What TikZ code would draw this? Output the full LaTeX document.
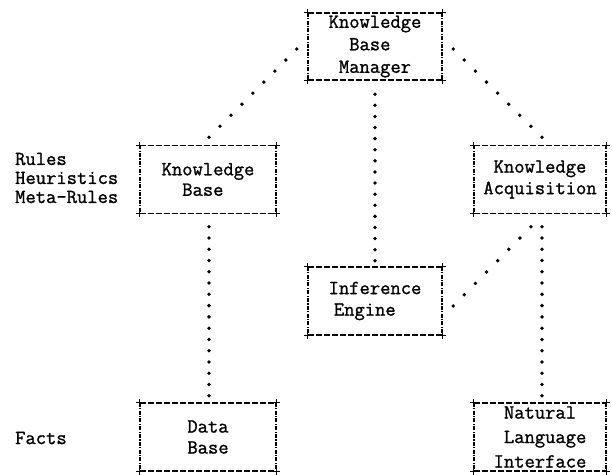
\documentclass[tikz,border=0pt]{standalone}
\usepackage{fontspec}
\setmonofont{Latin Modern Mono}[FakeBold=1.2]
\usetikzlibrary{calc}
\newcommand\tfont[1]{\fontsize{20}{#1}\selectfont\ttfamily}
\newcommand\lpbox[1]{%
  \draw[hdash] (#1.north west) -- (#1.north east);
  \draw[hdash] (#1.south west) -- (#1.south east);
  \draw[vdash] (#1.north west) -- (#1.south west);
  \draw[vdash] (#1.north east) -- (#1.south east);
  \foreach \c in {north west,north east,south west,south east}{
    \draw[corner] ($(#1.\c)+(-3.5,0)$) -- ($(#1.\c)+(3.5,0)$)
                  ($(#1.\c)+(0,-3.5)$) -- ($(#1.\c)+(0,3.5)$);
  }}
\newcommand\dotline[3]{%
  \foreach \i in {0,...,#3}{\fill ($(#1)!\i/#3!(#2)$) circle (1.9pt);}}
\begin{document}
\begin{tikzpicture}[x=1pt,y=-1pt,
  box/.style={minimum width=134pt,minimum height=67pt,inner sep=0pt,align=left},
  lbl/.style={anchor=west,inner sep=0pt,align=left},
  hdash/.style={line width=1.5pt,dash pattern=on 6pt off 2pt},
  vdash/.style={line width=1.5pt,dash pattern=on 4pt off 1.3pt on 1.2pt off 1.3pt},
  corner/.style={line width=1.3pt}]
\useasboundingbox (0,0) rectangle (612,474);

\node[box,font=\tfont{22.5}] (kbm) at (375,46.5) {Knowledge\\\hphantom{Kn}Base\\\hphantom{K}Manager};
\node[box,font=\tfont{20.5},minimum width=136pt,minimum height=68pt] (kb) at (208,179.5) {Knowledge\\\hphantom{Kn}Base};
\node[box,font=\tfont{21.5},minimum width=132pt,minimum height=68pt] (ka) at (540,179.5) {\hphantom{A}Knowledge\\Acquisition};
\node[box,font=\tfont{21.5},minimum height=68pt] (ie) at (375,301) {Inference\\\hspace{0.2625em}Engine};
\node[box,font=\tfont{21},minimum width=136pt,minimum height=68pt] (db) at (208,437) {Data\\Base};
\node[box,font=\tfont{24.5},minimum width=132pt,minimum height=68pt] (nli) at (540,437) {\hphantom{I}Natural\\\hphantom{I}Language\\Interface};

\node[lbl,font=\tfont{19}] (rules) at (15,178) {Rules\\Heuristics\\Meta-Rules};
\node[lbl,font=\tfont{19}] (facts) at (15,438) {Facts};

\foreach \n in {kbm,kb,ka,ie,db,nli}{\lpbox{\n}}

\coordinate (c1a) at ($(kbm.west)+(-11,2.5)$);
\coordinate (c1b) at ($(kb.north)+(1,-8)$);
\coordinate (c2a) at ($(kbm.east)+(11,2.5)$);
\coordinate (c2b) at ($(ka.north)+(2,-8)$);
\coordinate (c3a) at ($(kbm.south)+(0,14)$);
\coordinate (c3b) at ($(ie.north)+(0,-6)$);
\coordinate (c4a) at ($(kb.south)+(1,13)$);
\coordinate (c4b) at ($(db.north)+(1,-7)$);
\coordinate (c5a) at ($(ka.south)+(2,13)$);
\coordinate (c5b) at ($(nli.north)+(2,-7)$);
\coordinate (c6a) at ($(ka.south)+(-9,13)$);
\coordinate (c6b) at ($(ie.east)+(11,5)$);

\dotline{c1a}{c1b}{8}
\dotline{c2a}{c2b}{8}
\dotline{c3a}{c3b}{15}
\dotline{c4a}{c4b}{15}
\dotline{c5a}{c5b}{15}
\dotline{c6a}{c6b}{7}
\end{tikzpicture}
\end{document}
